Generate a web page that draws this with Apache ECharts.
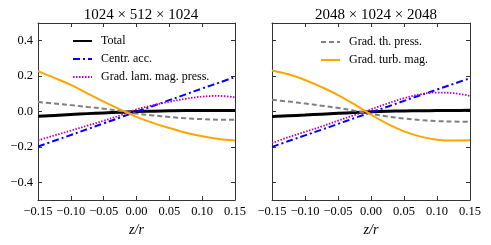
<!DOCTYPE html>
<html><head><meta charset="utf-8">
<script src="https://cdn.jsdelivr.net/npm/echarts@6/dist/echarts.min.js"></script>
<style>html,body{margin:0;padding:0;background:#fff}#c{width:491px;height:245px}</style>
</head><body><div id="c"></div>
<script>
var z = [-0.15,-0.125,-0.10,-0.075,-0.05,-0.025,0,0.025,0.05,0.075,0.10,0.125,0.15];
var titles = ['1024 \u00d7 512 \u00d7 1024', '2048 \u00d7 1024 \u00d7 2048'];
var xTicks = [-0.15,-0.10,-0.05,0,0.05,0.10,0.15];
var yTicks = [-0.4,-0.2,0,0.2,0.4];
var names = ['Total','Centr. acc.','Grad. lam. mag. press.','Grad. th. press.','Grad. turb. mag.'];
// left panel (1024)
var totalL = [-0.027,-0.022,-0.017,-0.012,-0.008,-0.004,0.000,0.002,0.004,0.005,0.005,0.005,0.005];
var centrL = [-0.198,-0.165,-0.133,-0.100,-0.067,-0.034,-0.001,0.031,0.064,0.097,0.130,0.162,0.195];
var lamL   = [-0.163,-0.135,-0.108,-0.080,-0.052,-0.022,0.012,0.035,0.055,0.072,0.084,0.088,0.080];
var thL    = [0.053,0.045,0.036,0.026,0.016,0.003,-0.012,-0.022,-0.031,-0.038,-0.043,-0.046,-0.047];
var turbL  = [0.228,0.190,0.150,0.103,0.056,0.012,-0.030,-0.064,-0.093,-0.120,-0.140,-0.155,-0.164];
// right panel (2048)
var totalR = [-0.028,-0.024,-0.020,-0.015,-0.010,-0.006,-0.002,0.001,0.003,0.004,0.005,0.006,0.007];
var centrR = [-0.200,-0.167,-0.135,-0.103,-0.070,-0.037,-0.005,0.027,0.060,0.092,0.124,0.156,0.188];
var lamR   = [-0.178,-0.145,-0.115,-0.085,-0.052,-0.020,0.012,0.045,0.075,0.097,0.107,0.104,0.088];
var thR    = [0.066,0.056,0.045,0.033,0.020,0.005,-0.013,-0.028,-0.040,-0.048,-0.054,-0.057,-0.058];
var turbR  = [0.232,0.210,0.178,0.138,0.093,0.040,-0.018,-0.070,-0.112,-0.142,-0.159,-0.164,-0.163];

var FONT = 'Liberation Serif';
function fmt(v){ var s = Math.abs(v).toFixed(2); if (Math.abs(v) < 1e-9) return '0.00'; return (v<0?'\u2212':'') + s; }
function fmt1(v){ if (Math.abs(v) < 1e-9) return '0.0'; return (v<0?'\u2212':'') + Math.abs(v).toFixed(1); }
var styles = [
  {color:'#000000', width:3, type:'solid'},
  {color:'#0000ff', width:2, type:[7,3,2,3]},
  {color:'#bf00bf', width:1.8, type:[1.5,1.5]},
  {color:'#808080', width:2, type:[5,3]},
  {color:'#ffa500', width:2, type:'solid'}
];
var panels = [[totalL,centrL,lamL,thL,turbL],[totalR,centrR,lamR,thR,turbR]];
var grids = [{left:38,right:256,top:23,bottom:45},{left:272,right:21,top:23,bottom:45}];
var xAxes=[], yAxes=[], series=[];
for (var p=0;p<2;p++){
  var axisLine = {show:true,onZero:false,lineStyle:{color:'#333',width:1}};
  xAxes.push({type:'value',gridIndex:p,min:-0.15,max:0.15,position:'bottom',
    axisLine:axisLine,splitLine:{show:false},
    axisTick:{inside:true,length:4,customValues:xTicks,lineStyle:{color:'#333'}},
    axisLabel:{customValues:xTicks,formatter:fmt,color:'#000',fontFamily:FONT,fontSize:12.5,margin:5,showMinLabel:true,showMaxLabel:true,hideOverlap:false},
    name:'z/r',nameLocation:'middle',nameGap:22,
    nameTextStyle:{fontFamily:FONT,fontStyle:'italic',fontSize:14,color:'#000'}});
  xAxes.push({type:'value',gridIndex:p,min:-0.15,max:0.15,position:'top',
    axisLine:axisLine,splitLine:{show:false},
    axisTick:{inside:true,length:4,customValues:xTicks,lineStyle:{color:'#333'}},
    axisLabel:{show:false}});
  yAxes.push({type:'value',gridIndex:p,min:-0.5,max:0.5,position:'left',
    axisLine:axisLine,splitLine:{show:false},
    axisTick:{inside:true,length:4,customValues:yTicks,lineStyle:{color:'#333'}},
    axisLabel:{show:p===0,customValues:yTicks,formatter:fmt1,color:'#000',fontFamily:FONT,fontSize:12.5,margin:5}});
  yAxes.push({type:'value',gridIndex:p,min:-0.5,max:0.5,position:'right',
    axisLine:axisLine,splitLine:{show:false},
    axisTick:{inside:true,length:4,customValues:yTicks,lineStyle:{color:'#333'}},
    axisLabel:{show:false}});
  for (var s=0;s<5;s++){
    var d = panels[p][s].map(function(v,i){return [z[i],v];});
    series.push({name:names[s],type:'line',xAxisIndex:2*p,yAxisIndex:2*p,data:d,
      smooth:0.4,symbol:'none',silent:true,animation:false,
      z:(s===0?2:3),
      lineStyle:{color:styles[s].color,width:styles[s].width,type:styles[s].type},
      itemStyle:{color:styles[s].color}});
  }
}
function mkLegend(left, top, data){
  return {show:true,orient:'vertical',left:left,top:top,itemWidth:19,itemHeight:10,itemGap:6,
    itemStyle:{opacity:0},
    textStyle:{fontFamily:FONT,fontSize:12,color:'#000',padding:[0,0,0,4]},selectedMode:false,data:data};
}
var chart = echarts.init(document.getElementById('c'),null,{renderer:'canvas'});
chart.setOption({
  animation:false,
  title:[
    {text:titles[0],left:136,top:3,textAlign:'center',textStyle:{fontFamily:FONT,fontSize:15,fontWeight:'normal',color:'#000'}},
    {text:titles[1],left:371,top:3,textAlign:'center',textStyle:{fontFamily:FONT,fontSize:15,fontWeight:'normal',color:'#000'}}
  ],
  grid:grids,xAxis:xAxes,yAxis:yAxes,series:series,
  legend:[ mkLegend(67,30,names.slice(0,3)), mkLegend(315,31,names.slice(3,5)) ]
});
</script></body></html>
